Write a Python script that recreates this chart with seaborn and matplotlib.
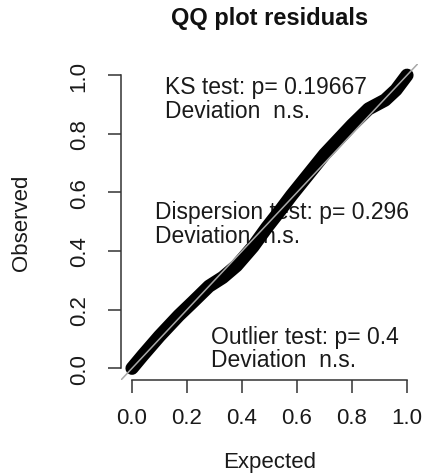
import matplotlib
matplotlib.use("Agg")
import matplotlib.pyplot as plt
import seaborn as sns
import pandas as pd

# ---- data ----
expected = [0.0, 0.04, 0.10, 0.17, 0.22, 0.28, 0.33, 0.38, 0.44, 0.49,
            0.54, 0.58, 0.64, 0.70, 0.75, 0.80, 0.86, 0.92, 0.96, 1.0]
observed = [0.0, 0.045, 0.11, 0.18, 0.225, 0.28, 0.31, 0.35, 0.415, 0.48,
            0.54, 0.59, 0.66, 0.73, 0.78, 0.83, 0.885, 0.915, 0.95, 1.0]
ticks = [0.0, 0.2, 0.4, 0.6, 0.8, 1.0]
tick_labels = ["0.0", "0.2", "0.4", "0.6", "0.8", "1.0"]
title = "QQ plot residuals"
xlabel = "Expected"
ylabel = "Observed"
ks_lines = ["KS test: p= 0.19667", "Deviation  n.s."]
disp_lines = ["Dispersion test: p= 0.296", "Deviation  n.s."]
out_lines = ["Outlier test: p= 0.4", "Deviation  n.s."]

df = pd.DataFrame({"Expected": expected, "Observed": observed})

sns.set_theme(style="ticks")
plt.rcParams["font.family"] = ["Liberation Sans", "DejaVu Sans"]

W, H = 427, 477
fig = plt.figure(figsize=(W / 100, H / 100), dpi=100)
fig.patch.set_facecolor("white")
ax = fig.add_axes([121 / W, (H - 381) / H, 297 / W, 316.5 / H])
ax.set_facecolor("white")

sns.lineplot(data=df, x="Expected", y="Observed", sort=False, ax=ax,
             color="black", linewidth=9.5, solid_capstyle="round",
             solid_joinstyle="round", zorder=3)
ax.axline((0, 0), slope=1, color="#a8a8a8", linewidth=1.1, zorder=4)

ax.set_xlim(-0.04, 1.04)
ax.set_ylim(-0.04, 1.04)
ax.set_xticks(ticks)
ax.set_xticklabels(tick_labels)
ax.set_yticks(ticks)
ax.set_yticklabels(tick_labels, rotation=90, va="center")
ax.set_xlabel("")
ax.set_ylabel("")

for s in ["top", "right"]:
    ax.spines[s].set_visible(False)
for s in ["left", "bottom"]:
    ax.spines[s].set_bounds(0, 1)
    ax.spines[s].set_color("#333333")
    ax.spines[s].set_linewidth(1.1)
ax.tick_params(axis="both", direction="out", length=9.5, width=1.1,
               color="#333333", labelsize=16, labelcolor="#1a1a1a")
ax.tick_params(axis="x", pad=10)
ax.tick_params(axis="y", pad=13)

def two_lines(x, y1, y2, lines):
    ax.text(x, y1, lines[0], transform=ax.transAxes, ha="left", va="center",
            fontsize=16.5, color="#1a1a1a", zorder=2)
    ax.text(x, y2, lines[1], transform=ax.transAxes, ha="left", va="center",
            fontsize=16.5, color="#1a1a1a", zorder=2)

two_lines(0.148, 0.926, 0.850, ks_lines)
two_lines(0.114, 0.531, 0.455, disp_lines)
two_lines(0.303, 0.139, 0.066, out_lines)

fig.text(270 / W, 1 - 19 / H, title, ha="center", va="center",
         fontsize=17, fontweight="bold", color="#111111")
fig.text(22 / W, 1 - 223 / H, ylabel, ha="center", va="center",
         rotation=90, fontsize=16, color="#1a1a1a")
fig.text(270 / W, 1 - 463 / H, xlabel, ha="center", va="center",
         fontsize=16, color="#1a1a1a")

fig.savefig("out.png", dpi=100, facecolor="white")
